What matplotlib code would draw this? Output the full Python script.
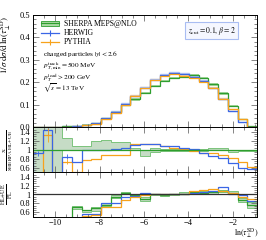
import numpy as np
import matplotlib
matplotlib.use("Agg")
import matplotlib.pyplot as plt
from matplotlib.patches import Patch
from matplotlib.lines import Line2D
from matplotlib.ticker import MultipleLocator

plt.rcParams['font.family'] = ['Liberation Serif', 'DejaVu Serif']
plt.rcParams['mathtext.fontset'] = 'stix'

# bins in ln(tau_perp^SD)
x_lo, x_hi, n_bins = -11.0, -0.9, 23

# main panel: 1/sigma dsigma/dln(tau)
sherpa = [0.0005, 0.001, 0.002, 0.004, 0.007, 0.011, 0.018, 0.040, 0.068, 0.100, 0.124, 0.154,
          0.184, 0.206, 0.221, 0.225, 0.232, 0.218, 0.191, 0.151, 0.095, 0.036, 0.004]
sherpa_err = [0.0005, 0.001, 0.001, 0.001, 0.001, 0.002, 0.002, 0.003, 0.004, 0.004, 0.005, 0.005,
              0.005, 0.005, 0.005, 0.005, 0.005, 0.005, 0.005, 0.005, 0.004, 0.003, 0.002]
herwig = [0.0005, 0.0015, 0.001, 0.0035, 0.005, 0.011, 0.018, 0.040, 0.070, 0.104, 0.138, 0.175,
          0.210, 0.233, 0.243, 0.236, 0.224, 0.206, 0.173, 0.124, 0.072, 0.025, 0.002]
pythia = [0.0002, 0.0013, 0.0006, 0.003, 0.0035, 0.0085, 0.015, 0.036, 0.062, 0.098, 0.140, 0.176,
          0.210, 0.228, 0.239, 0.228, 0.221, 0.201, 0.176, 0.127, 0.080, 0.036, 0.003]

# ratio X / Sherpa HL+UE
r1_herwig = [0.92, 1.45, 0.30, 0.85, 0.72, 1.00, 1.00, 1.00, 1.02, 1.04, 1.11, 1.12,
             1.12, 1.09, 1.08, 1.03, 1.01, 0.94, 0.86, 0.81, 0.70, 0.59, 0.57]
r1_pythia = [0.30, 1.33, 0.30, 0.74, 0.50, 0.78, 0.80, 0.88, 0.88, 0.89, 1.12, 1.13,
             1.12, 1.08, 1.05, 1.01, 0.98, 0.94, 0.92, 0.88, 0.81, 0.74, 0.61]
r1_herwig_err = [0.05, 0.12, 0, 0.05, 0, 0, 0, 0, 0, 0, 0, 0, 0, 0, 0, 0, 0, 0, 0, 0, 0, 0, 0]
r1_pythia_err = [0, 0.15, 0, 0.05, 0, 0, 0, 0, 0, 0, 0, 0, 0, 0, 0, 0, 0, 0, 0, 0, 0, 0, 0]
r1_band_lo = [0.3, 0.3, 0.3, 1.0, 1.0, 1.0, 1.0, 1.0, 1.0, 1.0, 0.99, 0.87,
              0.96, 0.98, 0.98, 0.98, 0.98, 0.98, 1.0, 1.0, 0.96, 0.97, 0.97]
r1_band_hi = [1.7, 1.7, 1.7, 1.26, 1.09, 1.09, 1.2, 1.22, 1.17, 1.17, 1.03, 1.0,
              1.04, 1.02, 1.02, 1.02, 1.02, 1.02, 1.04, 1.04, 1.0, 1.0, 1.0]

# ratio HL+UE / PL (first four bins empty)
r2_first = 4
r2_sherpa = [0.72, 0.64, 0.69, 0.77, 0.95, 1.04, 0.98, 0.90, 1.00, 0.99, 1.00, 1.02,
             1.06, 1.04, 1.05, 1.08, 1.04, 0.88, 0.77]
r2_band_lo = [0.68, 0.60, 0.63, 0.73, 0.92, 1.01, 0.96, 0.85, 0.98, 0.97, 0.98, 1.00,
              1.03, 1.01, 1.02, 1.05, 1.01, 0.84, 0.70]
r2_band_hi = [0.75, 0.66, 0.72, 0.80, 0.98, 1.06, 1.00, 0.95, 1.02, 1.01, 1.02, 1.05,
              1.08, 1.07, 1.08, 1.11, 1.07, 0.92, 0.82]
r2_herwig = [0.45, 0.55, 0.55, 0.80, 0.80, 0.94, 0.97, 1.03, 1.00, 1.00, 1.00, 1.00,
             1.03, 1.06, 1.08, 1.16, 1.01, 0.99, 0.86]
r2_pythia = [0.45, 0.52, 0.54, 0.72, 0.72, 0.88, 0.95, 0.98, 1.00, 1.00, 1.00, 1.02,
             1.085, 1.10, 1.12, 1.08, 1.03, 0.94, 0.89]

c_green, c_green_l = '#2e9e2e', '#a8d8a0'
c_blue, c_blue_l = '#3a66e6', '#b0c4f5'
c_orange, c_orange_l = '#f7a21b', '#fbd49a'

edges = np.linspace(x_lo, x_hi, n_bins + 1)
centers = 0.5 * (edges[1:] + edges[:-1])
sherpa = np.array(sherpa)
sherpa_err = np.array(sherpa_err)

fig = plt.figure(figsize=(2.66, 2.40), dpi=100)
L, Wd = 33 / 266, 224 / 266
ax = fig.add_axes([L, 1 - 127.3 / 240, Wd, 112.3 / 240])
ax1 = fig.add_axes([L, 1 - 172.3 / 240, Wd, 45 / 240])
ax2 = fig.add_axes([L, 1 - 216.7 / 240, Wd, 44.4 / 240])

# main panel
ax.stairs(sherpa + sherpa_err, edges, baseline=sherpa - sherpa_err, fill=True,
          color=c_green_l, lw=0)
ax.stairs(np.array(pythia) * 1.02, edges, color=c_orange_l, lw=1.0)
ax.stairs(np.array(herwig) * 1.02, edges, color=c_blue_l, lw=1.0)
ax.stairs(sherpa, edges, color=c_green, lw=0.9)
ax.stairs(herwig, edges, color=c_blue, lw=0.9)
ax.stairs(pythia, edges, color=c_orange, lw=0.9)
ax.set_ylim(0, 0.5)
ax.set_ylabel(r'$1/\sigma\;\mathrm{d}\sigma/\mathrm{d}\,\ln(\tau_\perp^{\mathrm{SD}})$',
              fontsize=6.5, loc='top')
ax.yaxis.set_label_coords(-0.088, 0.99)
ax.yaxis.set_major_locator(MultipleLocator(0.1))
ax.yaxis.set_minor_locator(MultipleLocator(0.02))

handles = [(Patch(facecolor=c_green_l, edgecolor=c_green, lw=0.6),
            Line2D([], [], color=c_green, lw=0.8)),
           Line2D([], [], color=c_blue, lw=0.9, marker='|', markersize=5, markeredgewidth=0.8),
           Line2D([], [], color=c_orange, lw=0.9, marker='|', markersize=5, markeredgewidth=0.8)]
labels = ['SHERPA MEPS@NLO', 'HERWIG', 'PYTHIA']
ax.legend(handles, labels, loc='upper left', bbox_to_anchor=(0.035, 0.955), frameon=False,
          fontsize=5.5, handlelength=2.4, handleheight=0.6, handletextpad=0.6,
          labelspacing=0.15, borderpad=0.0, borderaxespad=0.0)
info = ['charged particles $|y| < 2.6$',
        r'$p_{T,\mathrm{min}}^{\mathrm{track}} = 500$ MeV',
        r'$p_T^{\mathrm{lead}} > 200$ GeV',
        r'$\sqrt{s} = 13$ TeV']
for k, t in enumerate(info):
    ax.text(0.045, [0.65, 0.535, 0.44, 0.35][k], t, transform=ax.transAxes,
            fontsize=5.2, va='center')
ax.text(0.905, 0.86, r'$z_{\mathrm{cut}} = 0.1,\, \beta = 2$', transform=ax.transAxes,
        fontsize=5.5, ha='right', va='center',
        bbox=dict(boxstyle='square,pad=0.35', fc='#f5f7ff', ec='#a9bdf2', lw=0.8))

# ratio 1
ax1.stairs(r1_band_hi, edges, baseline=r1_band_lo, fill=True, color='#c6dcc6', lw=0)
ax1.stairs(r1_band_hi, edges, baseline=r1_band_lo, color='#7cc47c', lw=0.7)
ax1.axhline(1, color=c_green, lw=0.9)
ax1.stairs(r1_pythia, edges, color=c_orange, lw=0.9)
ax1.stairs(r1_herwig, edges, color=c_blue, lw=0.9)
ax1.errorbar(centers, r1_herwig, yerr=r1_herwig_err, fmt='none', ecolor=c_blue, elinewidth=0.6)
ax1.errorbar(centers, r1_pythia, yerr=r1_pythia_err, fmt='none', ecolor=c_orange, elinewidth=0.6)
ax1.set_ylabel(r'$\frac{\mathrm{X}}{\mathrm{SHERPA\ HL{+}UE}}$', fontsize=5.5)

# ratio 2
e2 = edges[r2_first:]
ax2.axhline(1, color='#333333', lw=0.9)
ax2.stairs(r2_band_hi, e2, baseline=r2_band_lo, fill=True, color='#c6dcc6', lw=0)
ax2.stairs(r2_band_hi, e2, baseline=r2_band_lo, color='#7cc47c', lw=0.7)
ax2.stairs(r2_sherpa, e2, color=c_green, lw=0.9)
ax2.stairs(r2_herwig, e2, color=c_blue, lw=0.9)
ax2.stairs(r2_pythia, e2, color=c_orange, lw=0.9)
ax2.set_ylabel(r'$\frac{\mathrm{HL{+}UE}}{\mathrm{PL}}$', fontsize=6)
fig.text(259 / 266, 1 - 226 / 240, r'$\ln(\tau_\perp^{\mathrm{SD}})$', fontsize=5.8,
         ha='right', va='top')

for a in (ax1, ax2):
    a.set_ylim(0.5, 1.5)
    a.set_yticks([0.6, 0.8, 1.0, 1.2, 1.4])
    a.set_yticklabels(['0.6', '0.8', '1', '1.2', '1.4'])
    a.yaxis.set_minor_locator(MultipleLocator(0.05))
    a.yaxis.set_label_coords(-0.082, 0.5)

for a in (ax, ax1, ax2):
    a.set_xlim(x_lo, x_hi)
    a.xaxis.set_major_locator(MultipleLocator(2))
    a.xaxis.set_minor_locator(MultipleLocator(0.5))
    a.tick_params(which='both', direction='in', top=True, right=True, labelsize=6,
                  width=0.5, color='#555555', pad=2)
    a.tick_params(which='major', length=4)
    a.tick_params(which='minor', length=2)
    for s in a.spines.values():
        s.set_linewidth(0.7)
for a in (ax, ax1):
    a.tick_params(labelbottom=False)

fig.savefig('out.png', dpi=100)
